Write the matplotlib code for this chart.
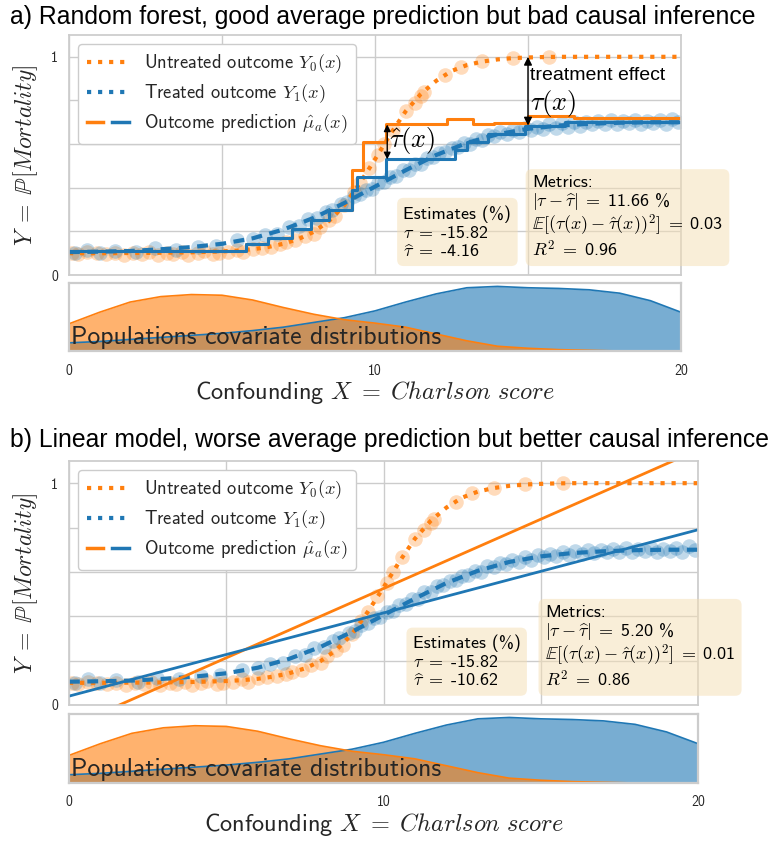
import numpy as np
import matplotlib
matplotlib.use('Agg')
import matplotlib.pyplot as plt
from matplotlib.lines import Line2D
from matplotlib.legend_handler import HandlerTuple

plt.rcParams['mathtext.fontset'] = 'cm'
plt.rcParams['font.family'] = ['cmss10', 'DejaVu Sans']
plt.rcParams['axes.unicode_minus'] = False

ORANGE = '#ff7f0e'
BLUE = '#1f77b4'
GRID = '#cccccc'
TEXT = '#262626'

# true outcome curves
y0_x = np.arange(0, 20.5, 0.5)
y0_curve = [0.100, 0.100, 0.100, 0.100, 0.101, 0.101, 0.102, 0.103, 0.104, 0.106,
            0.108, 0.112, 0.118, 0.128, 0.143, 0.165, 0.198, 0.248, 0.320, 0.420,
            0.530, 0.645, 0.750, 0.830, 0.890, 0.935, 0.962, 0.978, 0.988, 0.994,
            0.997, 0.999, 1.0, 1.0, 1.0, 1.0, 1.0, 1.0, 1.0, 1.0, 1.0]
y1_x = np.arange(0, 21, 1)
y1_curve = [0.105, 0.107, 0.110, 0.118, 0.128, 0.143, 0.168, 0.208, 0.262, 0.330,
            0.405, 0.480, 0.550, 0.605, 0.645, 0.670, 0.685, 0.693, 0.698, 0.700, 0.700]

# observed samples
untreated_x = [0.1, 0.3, 0.6, 0.9, 1.2, 1.5, 1.8, 2.1, 2.4, 2.6, 2.9, 3.2, 3.4, 3.7, 3.9,
               4.2, 4.4, 4.7, 4.9, 5.2, 5.5, 5.7, 6.0, 6.3, 6.6, 6.9, 7.1, 7.4, 7.7, 8.0,
               8.2, 8.5, 8.7, 9.0, 9.3, 9.5, 9.8, 10.1, 10.3, 10.6, 11.0, 11.3, 11.5, 11.6,
               12.3, 12.8, 13.5, 14.5, 15.7]
untreated_y = [0.10, 0.095, 0.105, 0.10, 0.095, 0.10, 0.09, 0.10, 0.095, 0.105, 0.09, 0.10,
               0.095, 0.105, 0.09, 0.10, 0.11, 0.095, 0.10, 0.105, 0.115, 0.105, 0.12, 0.125,
               0.13, 0.14, 0.15, 0.16, 0.18, 0.19, 0.22, 0.25, 0.27, 0.32, 0.38, 0.42, 0.49,
               0.55, 0.60, 0.665, 0.75, 0.79, 0.82, 0.84, 0.915, 0.955, 0.98, 0.995, 1.0]
treated_x = [0.2, 0.6, 1.0, 1.5, 2.2, 2.8, 3.5, 4.2, 4.8, 5.5, 6.0, 6.4, 6.8, 7.2, 7.5,
             7.8, 8.1, 8.4, 8.6, 8.9, 9.1, 9.3, 9.5, 9.7, 9.9,
             10.1, 10.3, 10.5, 10.7, 10.9, 11.1, 11.3, 11.5, 11.7, 11.9,
             12.1, 12.3, 12.5, 12.7, 12.9, 13.1, 13.3, 13.5, 13.7, 13.9,
             14.1, 14.3, 14.5, 14.7, 14.9, 15.1, 15.3, 15.5, 15.7, 15.9,
             16.1, 16.3, 16.5, 16.7, 16.9, 17.1, 17.3, 17.5, 17.7, 17.9,
             18.1, 18.3, 18.5, 18.7, 18.9, 19.1, 19.3, 19.5, 19.7, 19.9]
treated_y = [0.10, 0.115, 0.10, 0.112, 0.105, 0.122, 0.115, 0.13, 0.135, 0.16,
             0.165, 0.185, 0.19, 0.22, 0.225, 0.255, 0.26, 0.29, 0.30, 0.325,
             0.335, 0.36, 0.37, 0.39, 0.395,
             0.42, 0.425, 0.45, 0.455, 0.48, 0.48, 0.51, 0.51, 0.535, 0.54,
             0.56, 0.565, 0.58, 0.585, 0.605, 0.60, 0.625, 0.62, 0.64, 0.635,
             0.655, 0.645, 0.665, 0.655, 0.675, 0.665, 0.68, 0.67, 0.69, 0.675,
             0.695, 0.68, 0.70, 0.685, 0.70, 0.69, 0.705, 0.69, 0.71, 0.69,
             0.705, 0.695, 0.71, 0.69, 0.705, 0.695, 0.71, 0.69, 0.715, 0.70]

# random forest predictions (step functions)
rf_x0 = [0, 5.8, 6.5, 7.3, 7.9, 8.5, 9.25, 9.6, 10.35, 12.35, 13.2, 13.9, 15.0, 16.5, 20]
rf_mu0 = [0.11, 0.14, 0.17, 0.21, 0.25, 0.30, 0.48, 0.61, 0.69, 0.715, 0.69, 0.695, 0.73, 0.72, 0.72]
rf_x1 = [0, 5.8, 6.5, 7.3, 7.9, 8.5, 9.25, 9.4, 10.35, 12.6, 13.0, 13.7, 14.9, 16.2, 20]
rf_mu1 = [0.11, 0.14, 0.17, 0.21, 0.25, 0.30, 0.39, 0.45, 0.53, 0.575, 0.61, 0.645, 0.685, 0.70, 0.70]

# linear model predictions
lin_x = [0, 20]
lin_mu0 = [-0.10, 1.15]
lin_mu1 = [0.04, 0.79]

# covariate densities
dens_x = np.arange(0, 21, 1)
dens_untreated = [0.40, 0.57, 0.72, 0.80, 0.83, 0.82, 0.75, 0.64, 0.54, 0.46, 0.41,
                  0.35, 0.25, 0.15, 0.07, 0.04, 0.02, 0.01, 0.0, 0.0, 0.0]
dens_treated = [0.12, 0.14, 0.17, 0.20, 0.23, 0.26, 0.30, 0.35, 0.42, 0.49, 0.59,
                0.72, 0.84, 0.93, 0.95, 0.93, 0.92, 0.90, 0.85, 0.74, 0.57]

titles = ['a) Random forest, good average prediction but bad causal inference',
          'b) Linear model, worse average prediction but better causal inference']
tau_true = ['-15.82', '-15.82']
tau_hat = ['-4.16', '-10.62']
abs_err = ['11.66', '5.20']
mse_tau = ['0.03', '0.01']
r2 = ['0.96', '0.86']


def style_axes(ax):
    ax.set_facecolor('white')
    for s in ax.spines.values():
        s.set_color(GRID)
        s.set_linewidth(1.25)
    ax.tick_params(length=0, colors=TEXT, labelsize=10)


def draw_panel(fig, rect_main, rect_dens, title, title_y, idx):
    ax = fig.add_axes(rect_main)
    style_axes(ax)
    ax.grid(True, color=GRID, lw=1)
    ax.set_axisbelow(True)

    ax.scatter(untreated_x, untreated_y, s=110, color=ORANGE, alpha=0.28, lw=0)
    ax.scatter(treated_x, treated_y, s=110, color=BLUE, alpha=0.28, lw=0)
    ax.plot(y0_x, y0_curve, color=ORANGE, ls=':', lw=3)
    ax.plot(y1_x, y1_curve, color=BLUE, lw=3, dashes=(2.6, 1.8))

    if idx == 0:
        ax.step(rf_x0, rf_mu0, where='post', color=ORANGE, lw=2.2)
        ax.step(rf_x1, rf_mu1, where='post', color=BLUE, lw=2.2)
        ax.annotate('', xy=(15, 0.685), xytext=(15, 1.0),
                    arrowprops=dict(arrowstyle='<|-|>', color='black', lw=1, mutation_scale=12,
                                    shrinkA=0, shrinkB=0))
        ax.text(15.07, 0.915, 'treatment effect', family='Liberation Sans', fontsize=14,
                va='center', color='black')
        ax.text(15.07, 0.785, r'$\tau(x)$', fontsize=19, va='center', color='black')
        ax.annotate('', xy=(10.4, 0.53), xytext=(10.4, 0.69),
                    arrowprops=dict(arrowstyle='<|-|>', color='black', lw=1, mutation_scale=10,
                                    shrinkA=0, shrinkB=0))
        ax.text(10.45, 0.615, r'$\hat{\tau}(x)$', fontsize=19, va='center', color='black')
    else:
        ax.plot(lin_x, lin_mu0, color=ORANGE, lw=2)
        ax.plot(lin_x, lin_mu1, color=BLUE, lw=2)

    ax.set_xlim(0, 20)
    ax.set_ylim(0, 1.1)
    ax.set_xticks([0, 5, 10, 15, 20])
    ax.set_xticklabels([])
    ax.set_yticks([0, 0.2, 0.4, 0.6, 0.8, 1.0])
    ax.set_yticklabels(['0', '', '', '', '', '1'])
    ax.tick_params(axis='y', pad=8)
    ax.set_ylabel(r'$Y\;=\;\mathbb{P}[Mortality]$', fontsize=17, color=TEXT, labelpad=8)

    handles = [Line2D([], [], color=ORANGE, ls=':', lw=3),
               Line2D([], [], color=BLUE, ls=':', lw=3),
               (Line2D([], [], color=ORANGE, lw=2.5), Line2D([], [], color=BLUE, lw=2.5))]
    labels = [r'Untreated outcome $Y_0(x)$', r'Treated outcome $Y_1(x)$',
              r'Outcome prediction $\hat{\mu}_a(x)$']
    leg = ax.legend(handles, labels, loc='upper left', fontsize=13.3,
                    handler_map={tuple: HandlerTuple(ndivide=None, pad=0.5)},
                    handlelength=2.3, handletextpad=0.8, labelspacing=0.4,
                    frameon=True, fancybox=True, framealpha=1, edgecolor=GRID,
                    borderpad=0.45, bbox_to_anchor=(0.0, 1.0))
    for t in leg.get_texts():
        t.set_color(TEXT)

    box = dict(boxstyle='round,pad=0.35', facecolor='wheat', alpha=0.5, edgecolor='none')
    est = ('Estimates (%)\n' + r'$\tau\;=\;$' + tau_true[idx] + '\n'
           + r'$\widehat{\tau}\;=\;$' + tau_hat[idx])
    ax.text(10.93, 0.07, est, fontsize=13, va='bottom', ha='left', color='black',
            bbox=box, linespacing=1.15)
    met = ('Metrics:\n' + r'$|\tau - \widehat{\tau}|\;=\;$' + abs_err[idx] + ' %\n'
           + r'$\mathbb{E}[(\tau(x) - \hat{\tau}(x))^2]\;=\;$' + mse_tau[idx] + '\n'
           + r'$R^2\;=\;$' + r2[idx])
    ax.text(15.13, 0.07, met, fontsize=13, va='bottom', ha='left', color='black',
            bbox=box, linespacing=1.05)

    # covariate distributions
    axd = fig.add_axes(rect_dens)
    style_axes(axd)
    axd.spines[:].set_linewidth(1.6)
    axd.fill_between(dens_x, dens_treated, color=BLUE, alpha=0.6, lw=0)
    axd.plot(dens_x, dens_treated, color=BLUE, lw=1.2)
    axd.fill_between(dens_x, dens_untreated, color=ORANGE, alpha=0.6, lw=0)
    axd.plot(dens_x, dens_untreated, color=ORANGE, lw=1.2)
    axd.set_xlim(0, 20)
    axd.set_ylim(0, 1.0)
    axd.set_yticks([])
    axd.set_xticks([0, 10, 20])
    axd.set_xticklabels(['0', '10', '20'])
    axd.tick_params(axis='x', pad=9)
    axd.text(0.05, 0.03, 'Populations covariate distributions', fontsize=18.5,
             color=TEXT, va='bottom', ha='left')
    axd.set_xlabel(r'Confounding $X\;=\;Charlson\ score$', fontsize=17.5, color=TEXT,
                   labelpad=1)

    fig.text(10 / 768, title_y, title, family='Liberation Sans', fontsize=17.8,
             va='center', ha='left', color='black')


fig = plt.figure(figsize=(7.68, 8.41), dpi=100)
W, H = 768, 841


def rect(left, right, top, bottom):
    return [left / W, 1 - bottom / H, (right - left) / W, (bottom - top) / H]


draw_panel(fig, rect(69, 681, 35, 275), rect(69, 681, 283, 351), titles[0], 1 - 17 / H, 0)
draw_panel(fig, rect(69, 698, 461, 705), rect(69, 698, 714, 783), titles[1], 1 - 440 / H, 1)

fig.savefig('out.png', dpi=100)
